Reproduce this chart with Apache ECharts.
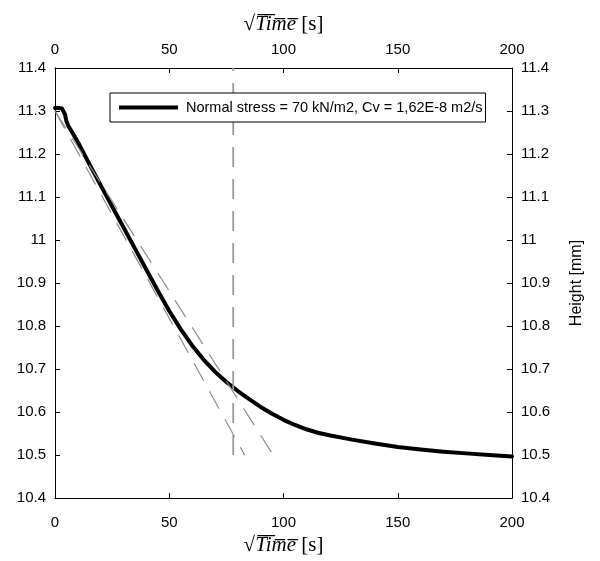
<!DOCTYPE html>
<html>
<head>
<meta charset="utf-8">
<script src="https://cdn.jsdelivr.net/npm/echarts@6/dist/echarts.min.js"></script>
<style>
html,body{margin:0;padding:0;background:#fff;}
#chart{width:600px;height:561px;}
</style>
</head>
<body>
<div id="chart"></div>
<script>
// ---- data ----
const sqrtTime = [0, 1, 2, 3, 3.8, 4.4, 4.9, 5.8, 7, 8, 10, 15, 20, 25, 30, 35, 40, 45, 50, 55, 60, 65, 70, 75, 80, 85, 90, 95, 100, 105, 110, 115, 120, 130, 140, 150, 160, 170, 180, 190, 200];
const heightMm = [11.307, 11.307, 11.307, 11.306, 11.302, 11.292, 11.278, 11.266, 11.255, 11.246, 11.228, 11.177, 11.127, 11.078, 11.029, 10.980, 10.931, 10.882, 10.835, 10.793, 10.755, 10.722, 10.694, 10.670, 10.649, 10.630, 10.612, 10.596, 10.582, 10.570, 10.560, 10.552, 10.546, 10.536, 10.527, 10.519, 10.513, 10.508, 10.504, 10.500, 10.497];
const tangentAX = [0, 83];
const tangentAY = [11.3, 10.5];
const tangentBX = [0, 95.5];
const tangentBY = [11.3, 10.5];
const t90X = [78, 78];
const t90Y = [10.5, 11.4];
const xTicks = [0, 50, 100, 150, 200];
const yTicks = [10.4, 10.5, 10.6, 10.7, 10.8, 10.9, 11.0, 11.1, 11.2, 11.3, 11.4];
const seriesName = 'Normal stress = 70 kN/m2, Cv = 1,62E-8 m2/s';
const yName = 'Height [mm]';

const zip = (xs, ys) => xs.map((x, i) => [x, ys[i]]);
const FONT = "'Liberation Sans', Arial, sans-serif";
const SERIF = "'Liberation Serif', serif";

const nameRich = {
  r: {fontFamily: SERIF, fontSize: 21, color: '#000'},
  t: {fontFamily: SERIF, fontStyle: 'italic', fontSize: 21, color: '#000'},
  s: {fontFamily: SERIF, fontSize: 21, color: '#000'}
};

function xAxisDef(pos, gap, margin) {
  return {
    type: 'value',
    position: pos,
    min: xTicks[0],
    max: xTicks[xTicks.length - 1],
    interval: xTicks[1] - xTicks[0],
    name: '{r|√}{t|T\u0305i\u0305m\u0305e\u0305}{s| [s]}',
    nameLocation: 'middle',
    nameGap: gap,
    nameTextStyle: {rich: nameRich},
    axisLine: {show: true, onZero: false, lineStyle: {color: '#000', width: 1}},
    axisTick: {show: true, inside: true, length: 5, lineStyle: {color: '#000'}},
    axisLabel: {color: '#000', fontFamily: FONT, fontSize: 15, margin: margin},
    splitLine: {show: false}
  };
}
function yAxisDef(pos, withName) {
  const ax = {
    type: 'value',
    position: pos,
    min: yTicks[0],
    max: yTicks[yTicks.length - 1],
    interval: 0.1,
    axisLine: {show: true, onZero: false, lineStyle: {color: '#000', width: 1}},
    axisTick: {show: true, inside: true, length: 5, lineStyle: {color: '#000'}},
    axisLabel: {color: '#000', fontFamily: FONT, fontSize: 15, margin: 9,
      formatter: v => String(+(+v).toFixed(1))},
    splitLine: {show: false}
  };
  if (withName) {
    ax.name = yName;
    ax.nameLocation = 'middle';
    ax.nameRotate = 90;
    ax.nameGap = 57;
    ax.nameTextStyle = {color: '#000', fontFamily: FONT, fontSize: 16};
  }
  return ax;
}

const chart = echarts.init(document.getElementById('chart'), null, {renderer: 'canvas'});
const dashStyle = {color: '#8c8c8c', width: 1.2, type: [20, 12]};
chart.setOption({
  backgroundColor: '#fff',
  animation: false,
  grid: {left: 55, right: 88, top: 68, bottom: 62, containLabel: false},
  legend: {
    data: [{name: seriesName, icon: 'rect'}],
    left: 110, top: 93,
    orient: 'horizontal',
    backgroundColor: '#fff',
    borderColor: '#000', borderWidth: 1,
    padding: [7, 3, 7, 9],
    itemWidth: 59, itemHeight: 4,
    itemStyle: {color: '#000'},
    textStyle: {color: '#000', fontFamily: FONT, fontSize: 14.5, padding: [0, 0, 0, 3]},
    z: 10
  },
  xAxis: [xAxisDef('bottom', 31, 17), xAxisDef('top', 33, 11)],
  yAxis: [yAxisDef('left', false), yAxisDef('right', true)],
  series: [
    {
      name: seriesName, type: 'line', xAxisIndex: 0, yAxisIndex: 0,
      data: zip(sqrtTime, heightMm),
      showSymbol: false, symbol: 'none', smooth: false,
      lineStyle: {color: '#000', width: 4, join: 'round', cap: 'round'},
      itemStyle: {color: '#000'}, z: 2
    },
    {
      name: 'tangentA', type: 'line', data: zip(tangentAX, tangentAY),
      showSymbol: false, symbol: 'none', lineStyle: dashStyle, z: 3, silent: true
    },
    {
      name: 'tangentB', type: 'line', data: zip(tangentBX, tangentBY),
      showSymbol: false, symbol: 'none', lineStyle: dashStyle, z: 3, silent: true
    },
    {
      name: 't90', type: 'line', data: zip(t90X, t90Y),
      showSymbol: false, symbol: 'none',
      lineStyle: {color: '#999', width: 1.8, type: [20, 12]}, z: 3, silent: true
    }
  ]
});
</script>
</body>
</html>
